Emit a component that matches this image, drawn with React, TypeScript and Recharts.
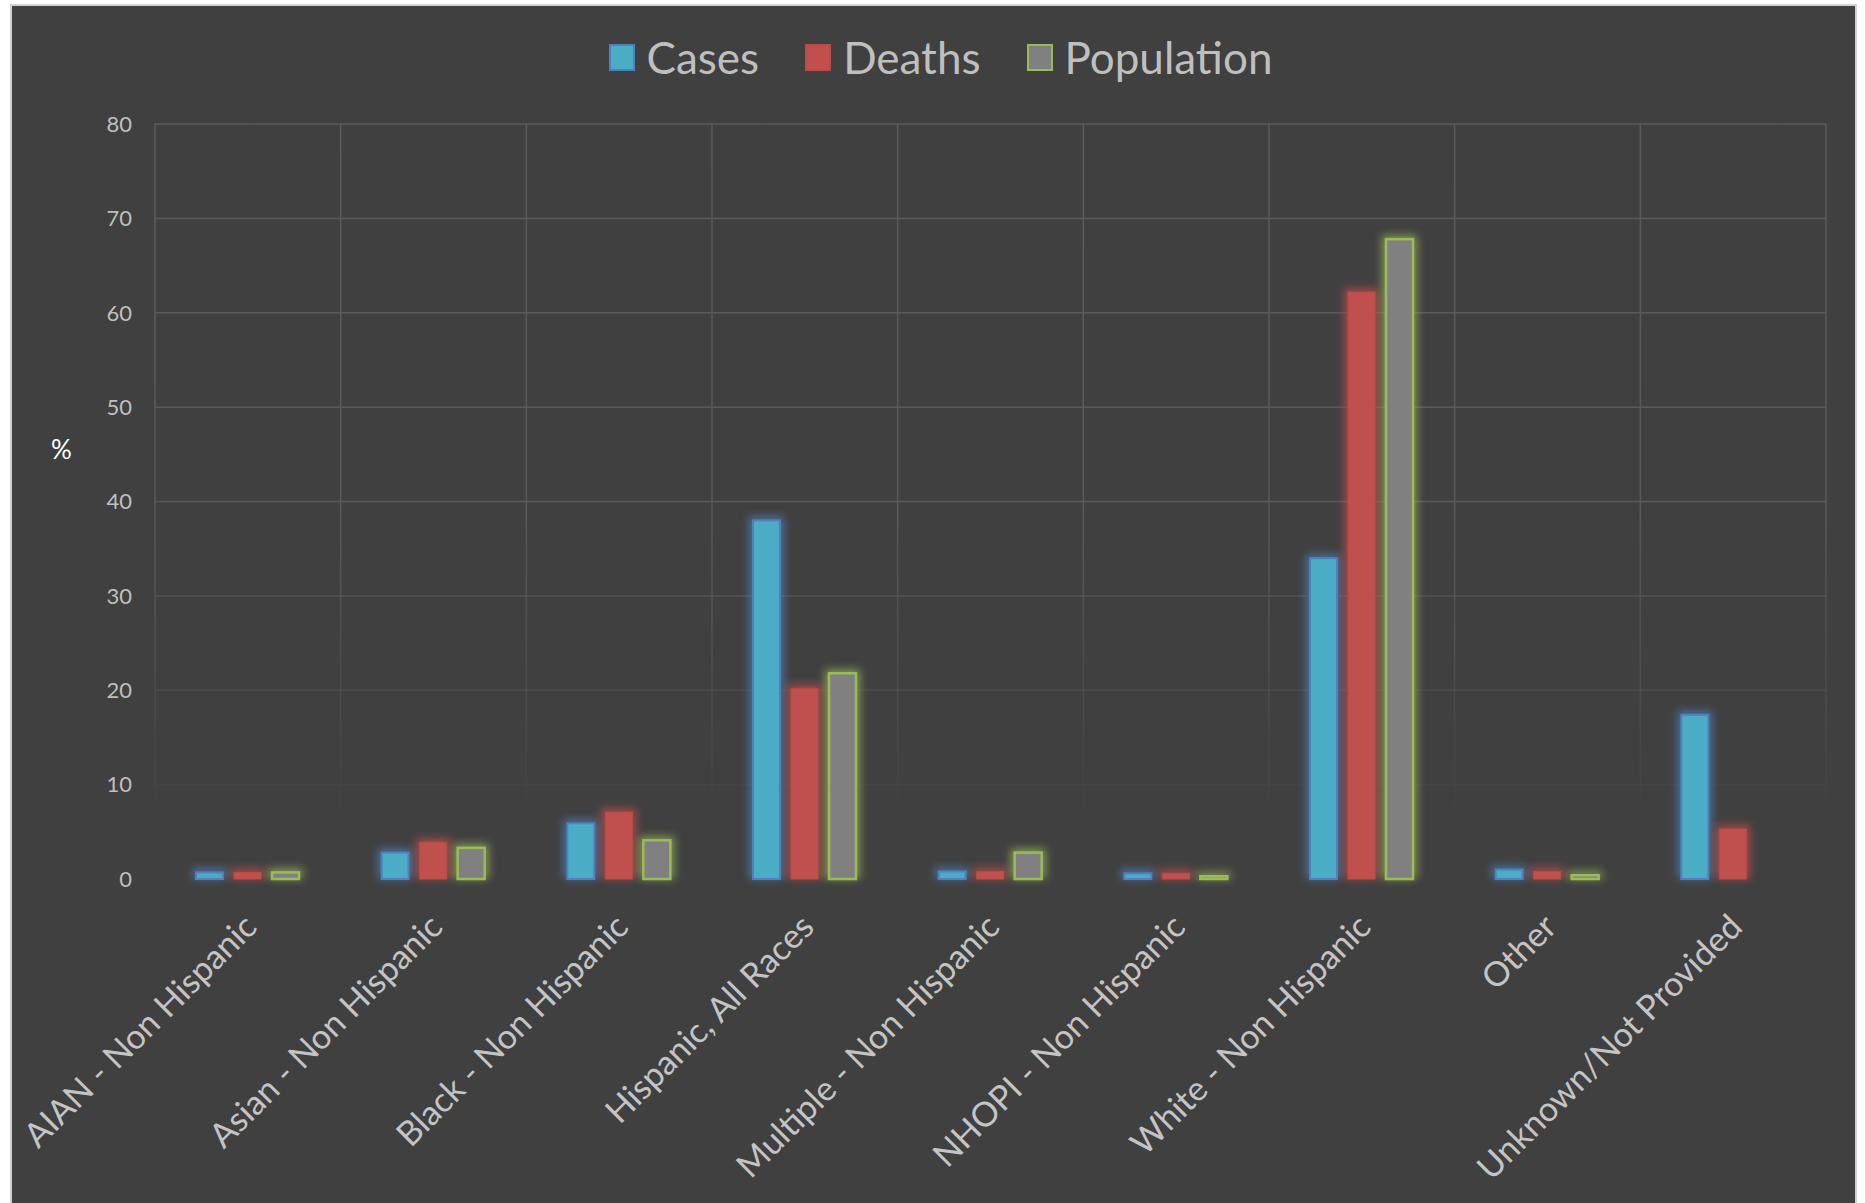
import { BarChart, Bar, XAxis, YAxis, CartesianGrid } from 'recharts'

const categories = [
  'AIAN - Non Hispanic',
  'Asian - Non Hispanic',
  'Black - Non Hispanic',
  'Hispanic, All Races',
  'Multiple - Non Hispanic',
  'NHOPI - Non Hispanic',
  'White - Non Hispanic',
  'Other',
  'Unknown/Not Provided',
]

const cases = [0.7, 2.8, 5.9, 38.0, 0.8, 0.6, 34.0, 1.0, 17.4]
const deaths = [0.7, 3.9, 7.1, 20.2, 0.8, 0.6, 62.2, 0.8, 5.3]
const population = [0.7, 3.3, 4.1, 21.8, 2.8, 0.3, 67.8, 0.4, null]

const yTicks = [0, 10, 20, 30, 40, 50, 60, 70, 80]

const series = [
  { key: 'cases', name: 'Cases', fill: '#4bacc6', stroke: '#4f81bd', strokeWidth: 2, glow: '#4f81bd' },
  { key: 'deaths', name: 'Deaths', fill: '#c0504d', stroke: '#bb4b48', strokeWidth: 1, glow: '#c0504d' },
  { key: 'population', name: 'Population', fill: '#808080', stroke: '#9bbb59', strokeWidth: 2.5, glow: '#9bbb59' },
]

const data = categories.map((category, i) => ({
  category,
  cases: cases[i],
  deaths: deaths[i],
  population: population[i],
}))

const FONT = 'Lato, "Open Sans", sans-serif'

// bar with a soft halo in the series' outline colour
const GlowBar = (props: any) => {
  const { x, y, width, height, s } = props
  if (!height || height <= 0) return null
  return (
    <g>
      <rect
        x={x - 4}
        y={y - 4}
        width={width + 8}
        height={height + 4}
        fill={s.glow}
        opacity={0.7}
        filter="url(#barGlow)"
      />
      <rect x={x} y={y} width={width} height={height} fill={s.fill} stroke={s.stroke} strokeWidth={s.strokeWidth} />
    </g>
  )
}

const CategoryTick = ({ x, y, payload }: any) => {
  const ax = x + 11
  const ay = y + 50
  return (
    <text
      x={ax}
      y={ay}
      transform={`rotate(-45 ${ax} ${ay})`}
      textAnchor="end"
      fill="#c4c4c4"
      fontSize={34}
      fontFamily={FONT}
    >
      {payload.value}
    </text>
  )
}

const PercentLabel = ({ viewBox }: any) => (
  <text x={viewBox.x} y={viewBox.y + viewBox.height * 0.435} fill="#ffffff" fontSize={26} fontFamily={FONT} dominantBaseline="middle">
    %
  </text>
)

const LegendRow = () => (
  <div
    style={{
      position: 'absolute',
      top: 32,
      left: 0,
      width: 1865,
      display: 'flex',
      justifyContent: 'center',
      paddingLeft: 16,
      boxSizing: 'border-box',
      fontFamily: FONT,
    }}
  >
    {series.map((s, i) => (
      <div key={s.key} style={{ display: 'flex', alignItems: 'center', marginLeft: i ? 46 : 0 }}>
        <div
          style={{
            width: 26,
            height: 27,
            boxSizing: 'border-box',
            background: s.fill,
            border: `2px solid ${s.stroke}`,
            marginRight: 12,
          }}
        />
        <span style={{ color: '#bfbfbf', fontSize: 44, lineHeight: '50px' }}>{s.name}</span>
      </div>
    ))}
  </div>
)

export default function App() {
  return (
    <div style={{ position: 'absolute', left: 0, top: 0, width: 1865, height: 1203, background: '#ffffff', overflow: 'hidden' }}>
      <div
        style={{
          position: 'absolute',
          left: 10,
          top: 4,
          width: 1847,
          height: 1260,
          boxSizing: 'border-box',
          border: '2px solid #d2d2d2',
          background: '#404040',
        }}
      />
      <LegendRow />
      <div style={{ position: 'absolute', left: 0, top: 0 }}>
        <BarChart
          width={1865}
          height={1203}
          data={data}
          margin={{ top: 124, right: 39, bottom: 24, left: 51 }}
          barSize={27}
          barGap={11}
        >
          <defs>
            <linearGradient id="gridFade" gradientUnits="userSpaceOnUse" x1="0" y1="124" x2="0" y2="880">
              <stop offset="0" stopColor="#5b5b5b" stopOpacity={1} />
              <stop offset="0.5" stopColor="#5a5a5a" stopOpacity={1} />
              <stop offset="0.75" stopColor="#595959" stopOpacity={0.45} />
              <stop offset="0.9" stopColor="#595959" stopOpacity={0.06} />
              <stop offset="1" stopColor="#595959" stopOpacity={0} />
            </linearGradient>
            <filter id="barGlow" filterUnits="userSpaceOnUse" x="0" y="0" width="1865" height="1203">
              <feGaussianBlur stdDeviation="4" />
            </filter>
          </defs>
          <CartesianGrid
            stroke="url(#gridFade)"
            strokeWidth={1.5}
            verticalCoordinatesGenerator={({ offset }: any) =>
              categories.map((_, i) => offset.left + (i * offset.width) / categories.length).concat(offset.left + offset.width)
            }
          />
          <XAxis
            dataKey="category"
            height={300}
            interval={0}
            axisLine={false}
            tickLine={false}
            tickSize={0}
            tickMargin={0}
            tick={<CategoryTick />}
          />
          <YAxis
            width={104}
            domain={[0, 80]}
            ticks={yTicks}
            axisLine={false}
            tickLine={false}
            tickSize={0}
            tickMargin={23}
            tick={{ fill: '#bfbfbf', fontSize: 22, fontFamily: FONT }}
            label={<PercentLabel />}
          />
          {series.map((s) => (
            <Bar
              key={s.key}
              dataKey={s.key}
              name={s.name}
              fill={s.fill}
              isAnimationActive={false}
              shape={(p: any) => <GlowBar {...p} s={s} />}
            />
          ))}
        </BarChart>
      </div>
    </div>
  )
}
